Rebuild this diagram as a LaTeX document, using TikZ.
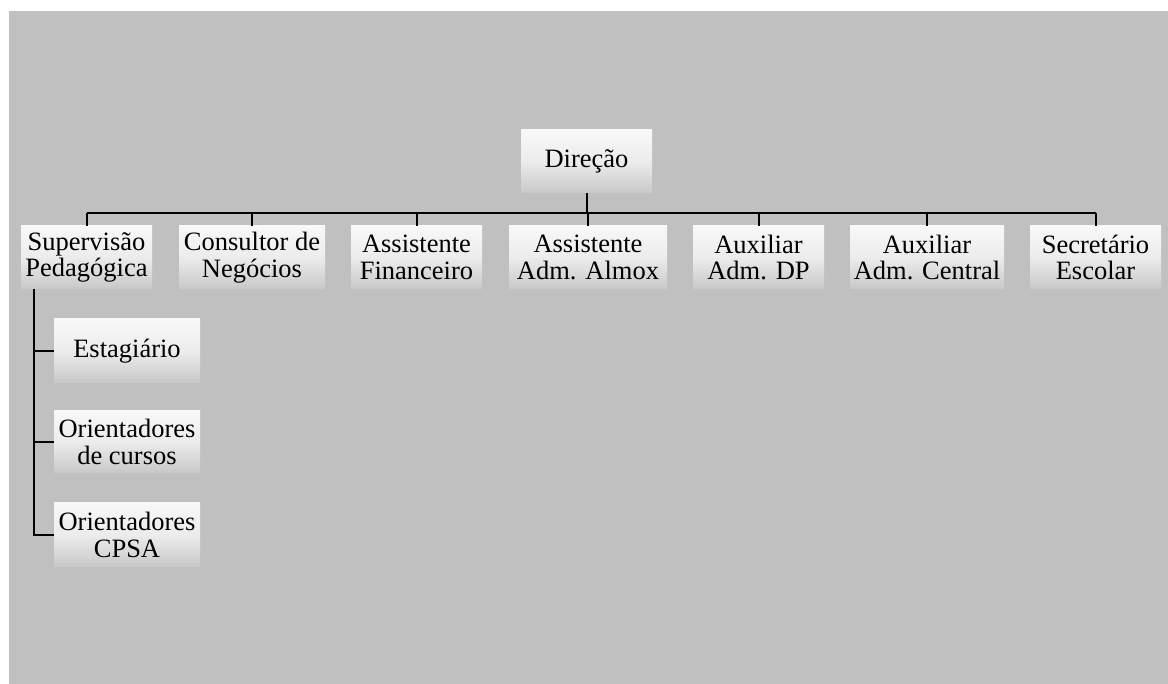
\documentclass[tikz,border=0pt]{standalone}
\usepackage{fontspec}
\setmainfont{Liberation Serif}
\usetikzlibrary{calc}
\definecolor{bg}{RGB}{192,192,192}
\definecolor{boxtop}{RGB}{248,248,248}
\definecolor{boxmid}{RGB}{236,236,236}
\definecolor{boxbot}{RGB}{200,200,200}
\tikzset{
  orgbox/.style={minimum height=63pt, inner sep=0pt, align=center,
    top color=boxtop, bottom color=boxbot, middle color=boxmid,
    font=\fontsize{26.5}{26.5}\selectfont},
  link/.style={draw=black, line width=2pt}
}
\begin{document}
\begin{tikzpicture}[x=1pt,y=1pt]
\useasboundingbox (0,0) rectangle (1168,684);
\fill[bg] (9,0) rectangle (1168,673);
% top
\node[orgbox, minimum width=131pt] (dir) at (586.5,522.5) {Direção};
% row 1
\node[orgbox, minimum width=131pt] (sup) at (86.5,426.5) {Supervisão\\Pedagógica};
\node[orgbox, minimum width=146pt] (con) at (252,426.5) {Consultor de\\Negócios};
\node[orgbox, minimum width=131pt] (fin) at (416.5,426.5) {Assistente\\Financeiro};
\node[orgbox, minimum width=158pt] (alm) at (588,426.5) {Assistente\\Adm. Almox};
\node[orgbox, minimum width=131pt] (dp) at (758.5,426.5) {Auxiliar\\Adm. DP};
\node[orgbox, minimum width=154pt] (cen) at (927,426.5) {Auxiliar\\Adm. Central};
\node[orgbox, minimum width=131pt] (sec) at (1095.5,426.5) {Secretário\\Escolar};
% children
\node[orgbox, minimum width=146pt, minimum height=64pt] (est) at (127,333) {Estagiário};
\node[orgbox, minimum width=146pt, minimum height=62pt] (ori) at (127,242) {Orientadores\\de cursos};
\node[orgbox, minimum width=146pt, minimum height=64pt] (cps) at (127,149) {Orientadores\\CPSA};
% connectors
\coordinate (bus) at (586.5,471);
\draw[link] (dir.south) -- (bus);
\draw[link] (bus -| sup.north) -- (bus -| sec.north);
\foreach \n in {sup,con,fin,alm,dp,cen,sec}{
  \draw[link] (bus -| \n.north) -- (\n.north);
}
\coordinate (hang) at ($(sup.south west)+(13,0)$);
\draw[link] (hang) |- (cps.west);
\draw[link] (hang |- est.west) -- (est.west);
\draw[link] (hang |- ori.west) -- (ori.west);
\end{tikzpicture}
\end{document}
